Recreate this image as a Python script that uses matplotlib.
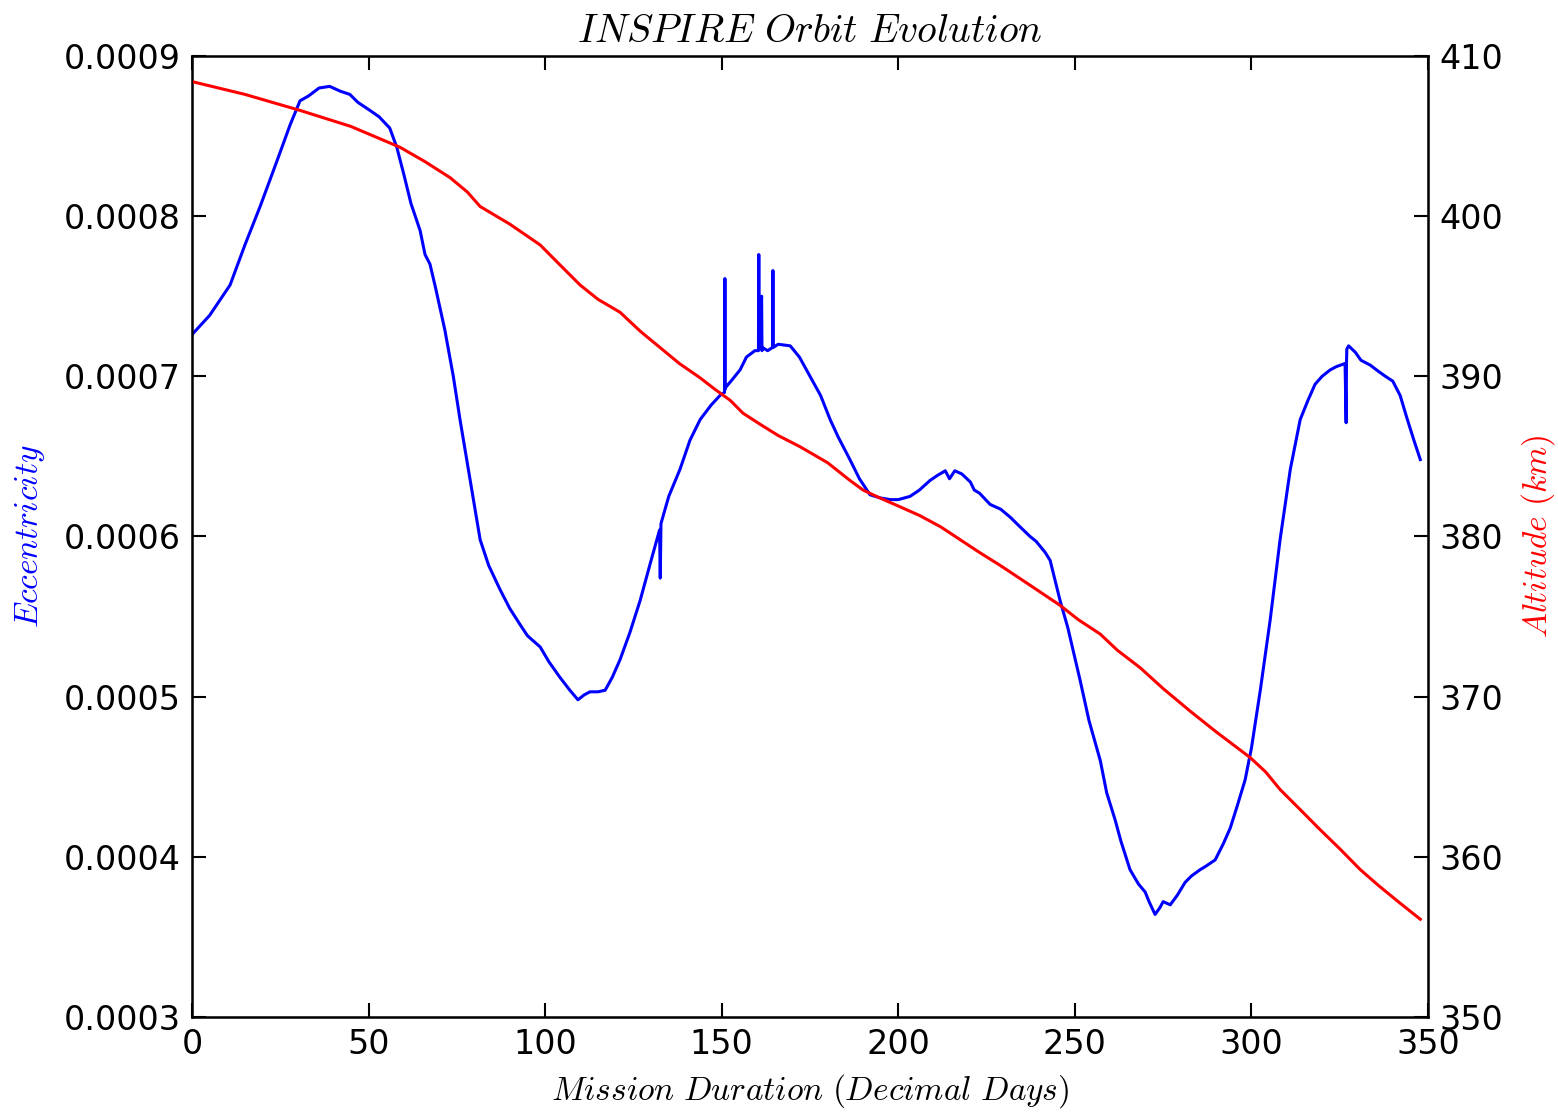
import matplotlib
matplotlib.use("Agg")
import matplotlib.pyplot as plt
import numpy as np

plt.rcParams['mathtext.fontset'] = 'cm'
plt.rcParams['font.family'] = 'DejaVu Sans'

# Eccentricity (blue)
ecc_days = [0, 5, 10.8, 15, 19.3, 24, 27.8, 30.6, 33, 36, 39, 42, 44.7, 47, 50.4, 53, 56, 58, 60, 62, 64.6, 66, 67.4, 69, 71.6, 74, 75.9, 78.7, 81.6, 84, 87.2, 90, 92.9, 95, 98.6, 101, 104.2, 107, 109.3, 111, 112.7, 115, 117, 119, 121.2, 124, 126.9, 130, 132.4, 132.6, 132.8, 135, 138.2, 141, 143.9, 147, 149.5, 150.8, 150.9, 151.0, 151.1, 153, 155.2, 157, 159.4, 160.4, 160.5, 160.6, 161.3, 161.4, 161.5, 163, 164.4, 164.5, 164.6, 166, 169.4, 172, 175, 178, 180.7, 183, 186.3, 189, 192, 195, 197.7, 200, 203.3, 206, 209, 211, 213.3, 214.5, 216, 218, 220.4, 221.5, 223, 226, 229, 231.7, 234, 237.3, 239, 241.6, 243, 245.8, 248, 251.5, 254, 257.2, 259, 261.4, 263, 265.6, 268, 269.9, 271, 272.7, 274, 275, 277, 279, 281.2, 283, 285.5, 287, 289.7, 292, 294, 296, 298.2, 300, 302.5, 305.3, 308.1, 311, 313.8, 316, 318, 320, 322.3, 324, 326.5, 326.8, 326.9, 327.0, 327.5, 329.4, 331, 333.6, 336, 337.9, 340, 342.1, 344, 346, 347.8]
ecc_vals = [0.000726, 0.000738, 0.000757, 0.000782, 0.000806, 0.000834, 0.000857, 0.000872, 0.000875, 0.000880, 0.000881, 0.000878, 0.000876, 0.000871, 0.000866, 0.000862, 0.000855, 0.000843, 0.000826, 0.000808, 0.000791, 0.000776, 0.000770, 0.000755, 0.000729, 0.000700, 0.000673, 0.000636, 0.000598, 0.000582, 0.000567, 0.000555, 0.000545, 0.000538, 0.000531, 0.000522, 0.000512, 0.000504, 0.000498, 0.000501, 0.000503, 0.000503, 0.000504, 0.000512, 0.000523, 0.000540, 0.000560, 0.000585, 0.000604, 0.000574, 0.000608, 0.000625, 0.000642, 0.000660, 0.000673, 0.000682, 0.000688, 0.000690, 0.000761, 0.000692, 0.000693, 0.000698, 0.000704, 0.000712, 0.000716, 0.000716, 0.000776, 0.000717, 0.000750, 0.000716, 0.000718, 0.000716, 0.000718, 0.000766, 0.000718, 0.000720, 0.000719, 0.000712, 0.000700, 0.000688, 0.000673, 0.000662, 0.000648, 0.000636, 0.000626, 0.000624, 0.000623, 0.000623, 0.000625, 0.000629, 0.000635, 0.000638, 0.000641, 0.000636, 0.000641, 0.000639, 0.000634, 0.000629, 0.000627, 0.000620, 0.000617, 0.000612, 0.000607, 0.000600, 0.000597, 0.000590, 0.000585, 0.000560, 0.000543, 0.000510, 0.000485, 0.000460, 0.000440, 0.000423, 0.000410, 0.000392, 0.000383, 0.000378, 0.000372, 0.000364, 0.000368, 0.000372, 0.000370, 0.000376, 0.000384, 0.000388, 0.000392, 0.000394, 0.000398, 0.000408, 0.000418, 0.000432, 0.000448, 0.000468, 0.000504, 0.000548, 0.000598, 0.000642, 0.000673, 0.000685, 0.000695, 0.000700, 0.000704, 0.000706, 0.000708, 0.000671, 0.000708, 0.000717, 0.000719, 0.000715, 0.000710, 0.000707, 0.000703, 0.000700, 0.000697, 0.000688, 0.000674, 0.000660, 0.000648]

# Altitude (red)
alt_days = [0, 15, 30.6, 45, 58.9, 66, 73.1, 78, 81.6, 90, 98.6, 104, 109.9, 115, 121.2, 127, 132.5, 138, 143.9, 148, 152.4, 156, 160.9, 166, 172.2, 180, 186.3, 190, 194.8, 200, 206.1, 212, 217.5, 223, 228.8, 237, 245.8, 251, 257.2, 262, 268.5, 275, 282.6, 290, 299.6, 304, 308.1, 314, 319.4, 325, 330.8, 336, 342.1, 347.8]
alt_vals = [408.4, 407.6, 406.6, 405.6, 404.3, 403.4, 402.4, 401.5, 400.6, 399.5, 398.2, 397.0, 395.7, 394.8, 394.0, 392.8, 391.8, 390.8, 389.9, 389.2, 388.5, 387.7, 387.0, 386.3, 385.6, 384.6, 383.5, 382.9, 382.4, 381.9, 381.3, 380.6, 379.8, 379.0, 378.2, 377.0, 375.7, 374.8, 373.9, 372.9, 371.8, 370.5, 369.1, 367.8, 366.2, 365.3, 364.2, 362.9, 361.7, 360.5, 359.2, 358.2, 357.1, 356.1]

x_ticks = [0, 50, 100, 150, 200, 250, 300, 350]
ecc_ticks = [0.0003, 0.0004, 0.0005, 0.0006, 0.0007, 0.0008, 0.0009]
alt_ticks = [350, 360, 370, 380, 390, 400, 410]

fig = plt.figure(figsize=(15.58, 11.19), dpi=100)
ax = fig.add_axes([0.1232, 0.0912, 0.7934, 0.8588])
ax.plot(ecc_days, ecc_vals, color='#0000ff', lw=2.2)
ax.set_xlim(0, 350)
ax.set_ylim(0.0003, 0.0009)
ax.set_xticks(x_ticks)
ax.set_yticks(ecc_ticks)
ax.set_yticklabels([f"{v:.4f}" for v in ecc_ticks])
ax.set_xticklabels([str(v) for v in x_ticks])
ax.tick_params(direction='in', length=10, width=1.5, labelsize=24, pad=8, top=True)
ax.set_xlabel(r'$Mission\ Duration\ (Decimal\ Days)$', fontsize=24, labelpad=8)
ax.set_ylabel(r'$Eccentricity$', fontsize=24, color='#0000ff', labelpad=12)
ax.set_title(r'$INSPIRE\ Orbit\ Evolution$', fontsize=28.5, pad=10)
for s in ax.spines.values():
    s.set_linewidth(1.8)

ax2 = ax.twinx()
ax2.plot(alt_days, alt_vals, color='#ff0000', lw=2.2)
ax2.set_ylim(350, 410)
ax2.set_yticks(alt_ticks)
ax2.set_yticklabels([str(v) for v in alt_ticks])
ax2.tick_params(direction='in', length=10, width=1.5, labelsize=24, pad=8)
ax2.set_ylabel(r'$Altitude\ (km)$', fontsize=24, color='#ff0000', labelpad=12)
ax2.set_xlim(0, 350)

fig.savefig('out.png', dpi=100)
